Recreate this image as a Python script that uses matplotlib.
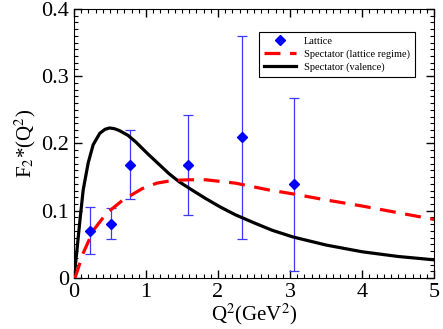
import numpy as np
import matplotlib
matplotlib.use('Agg')
import matplotlib.pyplot as plt
from matplotlib.ticker import MultipleLocator

plt.rcParams['font.family'] = ['Liberation Serif', 'DejaVu Serif']
plt.rcParams['mathtext.fontset'] = 'stix'

# lattice data
lat_q2 = [0.22, 0.52, 0.78, 1.58, 2.33, 3.05]
lat_f2 = [0.070, 0.081, 0.168, 0.168, 0.210, 0.140]
lat_lo = [0.035, 0.058, 0.118, 0.094, 0.058, 0.010]
lat_hi = [0.105, 0.104, 0.220, 0.243, 0.360, 0.268]

# spectator (valence)
val_q2 = [0.0, 0.037, 0.083, 0.128, 0.197, 0.266, 0.358, 0.43, 0.495, 0.56, 0.633,
          0.75, 0.86, 1.02, 1.18, 1.32, 1.46, 1.65, 1.83, 2.04, 2.24, 2.5, 2.75, 3.04,
          3.5, 4.0, 4.5, 5.0]
val_f2 = [0.0, 0.037, 0.086, 0.131, 0.171, 0.198, 0.215, 0.221, 0.223, 0.222, 0.219,
          0.212, 0.202, 0.185, 0.169, 0.155, 0.143, 0.130, 0.118, 0.105, 0.094, 0.082,
          0.071, 0.061, 0.049, 0.039, 0.032, 0.027]

# spectator (lattice regime)
spl_q2 = [0.014, 0.128, 0.27, 0.45, 0.68, 0.95, 1.15, 1.37, 1.6, 1.83, 2.24, 2.7,
          3.04, 3.5, 4.0, 4.5, 5.0]
spl_f2 = [0.0, 0.037, 0.071, 0.096, 0.116, 0.133, 0.141, 0.145, 0.146, 0.146, 0.141,
          0.131, 0.125, 0.116, 0.107, 0.097, 0.087]

fig = plt.figure(figsize=(4.43, 3.29), dpi=100)
ax = fig.add_axes([0.167, 0.155, 0.813, 0.818])

ax.plot(val_q2, val_f2, color='black', lw=2.3, label='Spectator (valence)', zorder=3)
ax.plot(spl_q2, spl_f2, color='red', lw=2.3, dashes=(5, 3),
        label='Spectator (lattice regime)', zorder=3)

yerr = [np.array(lat_f2) - np.array(lat_lo), np.array(lat_hi) - np.array(lat_f2)]
ax.errorbar(lat_q2, lat_f2, yerr=yerr, fmt='none', ecolor='#3a3aff', elinewidth=0.9,
            capsize=3.5, capthick=0.9, zorder=2)
ax.plot(lat_q2, lat_f2, 'D', color='blue', ms=5, ls='none', label='Lattice', zorder=4)

ax.set_xlim(0, 5)
ax.set_ylim(0, 0.4)
ax.xaxis.set_major_locator(MultipleLocator(1))
ax.xaxis.set_minor_locator(MultipleLocator(0.1))
ax.yaxis.set_minor_locator(MultipleLocator(0.01))
ax.set_yticks([0, 0.1, 0.2, 0.3, 0.4])
ax.set_yticklabels(['0', '0.1', '0.2', '0.3', '0.4'])
ax.tick_params(which='both', direction='in', top=True, right=True, labelsize=16)
ax.tick_params(which='major', length=6, width=1)
ax.tick_params(which='minor', length=3, width=0.8)

ax.set_xlabel(r'Q$^2$(GeV$^2$)', fontsize=15, labelpad=0)
ax.set_ylabel(r'F$_2$*(Q$^2$)', fontsize=15, labelpad=2)

handles, labels = ax.get_legend_handles_labels()
order = [2, 1, 0]
leg = ax.legend([handles[i] for i in order], [labels[i] for i in order],
                loc='upper right', bbox_to_anchor=(0.962, 0.935), fontsize=7.5,
                frameon=True, fancybox=False, edgecolor='black', framealpha=1,
                handlelength=3, borderpad=0.5, labelspacing=0.3)
leg.get_frame().set_linewidth(0.8)

fig.savefig('out.png', dpi=100)
